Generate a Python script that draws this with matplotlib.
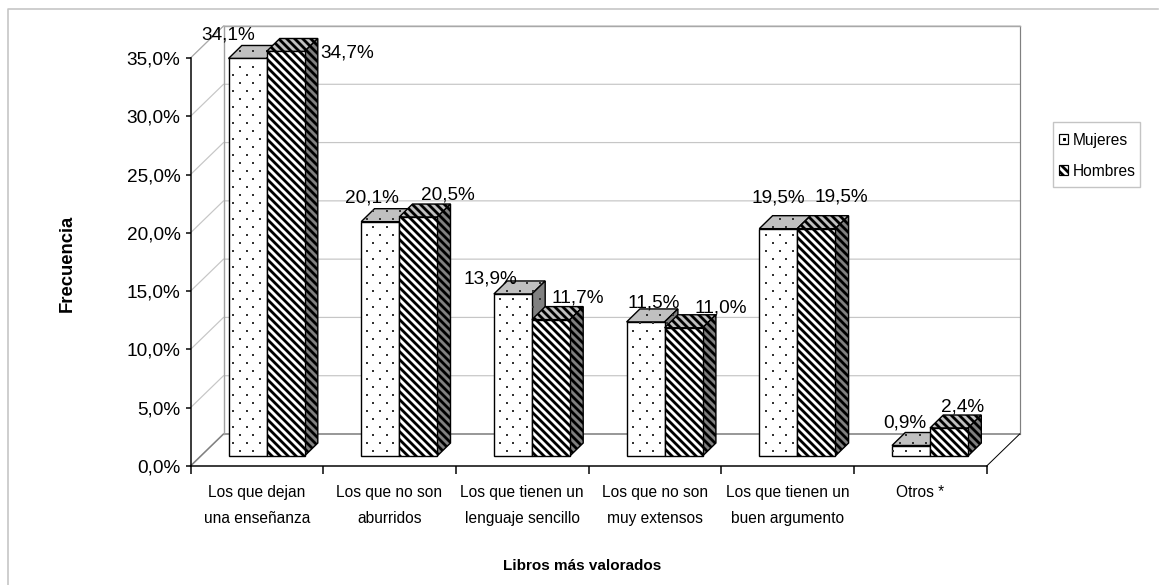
import numpy as np
import matplotlib
matplotlib.use("Agg")
import matplotlib.pyplot as plt
from matplotlib.patches import Polygon, Patch, Rectangle
from matplotlib.path import Path
from matplotlib.lines import Line2D
from matplotlib.legend_handler import HandlerTuple
from matplotlib.transforms import IdentityTransform

categories = ["Los que dejan\nuna enseñanza", "Los que no son\naburridos",
              "Los que tienen un\nlenguaje sencillo", "Los que no son\nmuy extensos",
              "Los que tienen un\nbuen argumento", "Otros *"]
mujeres = [34.1, 20.1, 13.9, 11.5, 19.5, 0.9]
hombres = [34.7, 20.5, 11.7, 11.0, 19.5, 2.4]
y_ticks = [0, 5, 10, 15, 20, 25, 30, 35]

# label offsets from each bar's top centre, in pixels
off_m = [(-19.5, 23.5), (-8, 24), (-23, 14.5), (8, 18.5), (0, 30.5), (-6, 23)]
off_h = [(61.5, -1.5), (30, 22.5), (27, 21.5), (37, 19.5), (25, 31.5), (13.5, 21.5)]

W, H = 1159, 585
plt.rcParams['font.family'] = ['Liberation Sans', 'DejaVu Sans']
plt.rcParams['hatch.linewidth'] = 2.8
fig = plt.figure(figsize=(W / 72, H / 72), dpi=72, facecolor='white')

L, R, T, B = 190.5, 986.7, 58.0, 466.0
ax = fig.add_axes([L / W, 1 - B / H, (R - L) / W, (B - T) / H])
ax.set_xlim(0, 6)
ax.set_ylim(0, 35)
ax.patch.set_alpha(0)
px = (R - L) / 6
py = (B - T) / 35

# chart frame
fig.add_artist(Line2D([8 / W, 8 / W, 1158 / W], [0, 1 - 9 / H, 1 - 9 / H], color='#c4c4c4', lw=1.6))

# walls
wx, wy = 33 / px, 32 / py
for v in y_ticks:
    col = '#808080' if v == 0 else '#c6c6c6'
    lw = 1.6 if v == 0 else 1.2
    ax.plot([0, wx, 6 + wx], [v, v + wy, v + wy], color=col, lw=lw, clip_on=False, zorder=1)
ax.plot([wx, wx], [wy, 35 + wy], color='#a0a0a0', lw=1.4, clip_on=False, zorder=1.1)
ax.plot([6 + wx, 6 + wx], [wy, 35 + wy], color='#808080', lw=1.2, clip_on=False, zorder=1.1)
ax.plot([wx, 6 + wx], [35 + wy, 35 + wy], color='#a8a8a8', lw=1.4, clip_on=False, zorder=1.1)
ax.plot([0, wx], [35, 35 + wy], color='#a8a8a8', lw=1.0, clip_on=False, zorder=1.1)
ax.plot([6, 6 + wx], [0, wy], color='black', lw=1.0, clip_on=False, zorder=1.1)

bw = 38 / px
base = 10 / py
dx, dy = 13.3 / px, 13 / py


def dots(verts, z):
    disp = ax.transData.transform(verts)
    path = Path(disp)
    x0, y0 = disp.min(axis=0)
    x1, y1 = disp.max(axis=0)
    pts = []
    yy = H - 563
    row = 0
    while yy < H:
        xs = 0 + (row % 2) * 6.67
        while xs < W:
            if x0 < xs < x1 and y0 < yy < y1:
                pts.append((xs, yy))
            xs += 13.33
        yy += 8
        row += 1
    pts = np.array(pts).reshape(-1, 2)
    if len(pts):
        pts = pts[path.contains_points(pts, radius=-1.5)]
    if len(pts):
        ax.scatter(pts[:, 0], pts[:, 1], s=2.6, marker='s', color='#333333', linewidths=0,
                   transform=IdentityTransform(), clip_on=False, zorder=z + 0.01)


def bar(x, v, striped, z):
    y0, y1 = base, base + v
    front = [(x, y0), (x + bw, y0), (x + bw, y1), (x, y1)]
    top = [(x, y1), (x + bw, y1), (x + bw + dx, y1 + dy), (x + dx, y1 + dy)]
    side = [(x + bw, y0), (x + bw + dx, y0 + dy), (x + bw + dx, y1 + dy), (x + bw, y1)]
    kw = dict(edgecolor='black', lw=1.4, clip_on=False, zorder=z, joinstyle='miter')
    if striped:
        ax.add_patch(Polygon(top, facecolor='#c0c0c0', hatch='\\\\\\', **kw))
        ax.add_patch(Polygon(side, facecolor='#808080', hatch='\\\\\\', **kw))
        ax.add_patch(Polygon(front, facecolor='white', hatch='\\\\\\', **kw))
    else:
        ax.add_patch(Polygon(top, facecolor='#c0c0c0', **kw))
        ax.add_patch(Polygon(side, facecolor='#808080', **kw))
        ax.add_patch(Polygon(front, facecolor='white', **kw))
        for poly in (top, side, front):
            dots(poly, z)


def pct(v):
    return f"{v:.1f}%".replace('.', ',')


for i, (m, h) in enumerate(zip(mujeres, hombres)):
    x = i + 38 / px
    bar(x, m, False, 3 + i * 0.1)
    bar(x + bw, h, True, 3.05 + i * 0.1)

for i, (m, h) in enumerate(zip(mujeres, hombres)):
    x = i + 38 / px
    ax.annotate(pct(m), (x + bw / 2, base + m), xytext=off_m[i], textcoords='offset pixels',
                ha='center', va='center', fontsize=19, annotation_clip=False, zorder=6)
    ax.annotate(pct(h), (x + 1.5 * bw, base + h), xytext=off_h[i], textcoords='offset pixels',
                ha='center', va='center', fontsize=19, annotation_clip=False, zorder=6)

# axes
for s in ('top', 'right'):
    ax.spines[s].set_visible(False)
for s in ('left', 'bottom'):
    ax.spines[s].set_linewidth(1.5)
    ax.spines[s].set_zorder(2)
ax.set_yticks(y_ticks)
ax.set_yticklabels([pct(v) for v in y_ticks], fontsize=19)
ax.tick_params(axis='y', length=5, width=1.5, pad=5)
ax.set_xticks(range(7))
ax.set_xticklabels([])
ax.tick_params(axis='x', which='major', length=8, width=1.5)
ax.set_xticks(np.arange(6) + 0.5, minor=True)
ax.set_xticklabels(categories, minor=True, fontsize=15.5, linespacing=1.9)
ax.tick_params(axis='x', which='minor', length=0, pad=19)

fig.text(582 / W, 1 - 566 / H, "Libros más valorados", ha='center', va='center',
         fontsize=15.3, fontweight='bold')
fig.text(67 / W, 1 - 263.5 / H, "Frecuencia", ha='center', va='center', rotation=90,
         fontsize=18.5, fontweight='bold')

# legend frame and entries
fig.add_artist(Rectangle((1053 / W, 1 - 187 / H), 87 / W, 65 / H, transform=fig.transFigure,
                         facecolor='white', edgecolor='#c4c4c4', lw=1.4))
h_m = (Patch(facecolor='white', edgecolor='black', lw=1.2),
       Line2D([], [], marker='s', ms=2, color='black', ls='none'))
h_h = Patch(facecolor='white', edgecolor='black', hatch='\\\\\\', lw=1.2)
leg = fig.legend([h_m, h_h], ['Mujeres', 'Hombres'],
                 handler_map={tuple: HandlerTuple(ndivide=1, pad=0)},
                 loc='upper left', bbox_to_anchor=(1059 / W, 1 - 132.5 / H),
                 fontsize=15.5, frameon=False,
                 handlelength=0.6, handleheight=0.6, handletextpad=0.3, labelspacing=1.05,
                 borderpad=0, borderaxespad=0, labelcolor='black')

fig.savefig('out.png', dpi=72, facecolor='white')
